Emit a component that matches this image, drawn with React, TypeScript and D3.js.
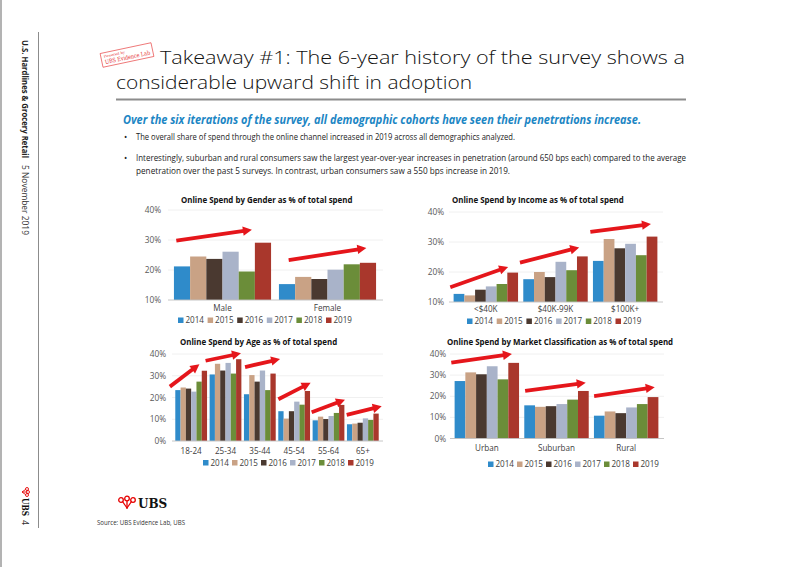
import React from "react";
import * as d3 from "d3";

const years = ["2014", "2015", "2016", "2017", "2018", "2019"];
const yearColors = ["#2f8bca", "#c9a285", "#4a3930", "#a9b3c9", "#6b8d39", "#a9372c"];

const genderCats = ["Male", "Female"];
const genderValues = [
  [21.2, 24.5, 23.7, 26.1, 19.5, 29.1],
  [15.3, 17.7, 17.0, 20.1, 21.9, 22.4],
];
const genderTicks = [10, 20, 30, 40];
const genderArrows = [
  [0.06, 29.8, 0.78, 33.4],
  [1.13, 23.3, 1.87, 27.3],
];

const incomeCats = ["<$40K", "$40K-99K", "$100K+"];
const incomeValues = [
  [12.7, 12.2, 14.1, 15.2, 16.0, 19.8],
  [17.6, 20.0, 18.3, 23.4, 20.6, 25.2],
  [23.7, 31.0, 27.9, 29.4, 25.6, 31.8],
];
const incomeTicks = [10, 20, 30, 40];
const incomeArrows = [
  [-0.01, 14.9, 0.82, 21.7],
  [0.99, 23.1, 1.84, 28.2],
  [2.0, 33.4, 2.87, 36.0],
];

const ageCats = ["18-24", "25-34", "35-44", "45-54", "55-64", "65+"];
const ageValues = [
  [23.4, 24.6, 24.1, 22.7, 27.3, 32.3],
  [30.6, 35.5, 32.4, 35.9, 31.0, 37.6],
  [21.5, 30.3, 27.3, 32.4, 23.4, 31.0],
  [13.7, 10.3, 13.7, 18.1, 16.7, 23.0],
  [9.5, 11.2, 10.1, 11.5, 12.9, 16.6],
  [7.7, 8.0, 8.4, 10.4, 9.7, 12.6],
];
const ageTicks = [0, 10, 20, 30, 40];
const ageArrows = [
  [-0.12, 25.0, 0.74, 35.3],
  [0.92, 36.9, 1.95, 40.3],
  [2.07, 34.0, 3.09, 37.7],
  [3.04, 19.2, 3.98, 26.8],
  [4.01, 13.2, 4.98, 19.0],
  [5.03, 12.0, 6.05, 16.0],
];

const marketCats = ["Urban", "Suburban", "Rural"];
const marketValues = [
  [27.2, 31.3, 30.4, 34.2, 28.0, 35.8],
  [15.7, 15.0, 15.3, 16.3, 18.4, 22.5],
  [10.8, 12.8, 12.0, 14.7, 16.3, 19.6],
];
const marketTicks = [0, 10, 20, 30, 40];
const marketArrows = [
  [-0.01, 35.9, 0.86, 40.0],
  [1.05, 22.5, 1.92, 26.4],
  [2.04, 20.1, 2.91, 24.3],
];

const FONT = "'Open Sans', 'DejaVu Sans', sans-serif";

type ChartProps = {
  title: string;
  titleX: number;
  titleY: number;
  cats: string[];
  values: number[][];
  ticks: number[];
  arrows: number[][];
  xr: [number, number];
  yr: [number, number];
  tickRight: number;
  catY: number;
  legendX: number;
  legendY: number;
  legendStep: number;
};

function Arrow({ x1, y1, x2, y2 }: { x1: number; y1: number; x2: number; y2: number }) {
  const ang = Math.atan2(y2 - y1, x2 - x1);
  const hl = 9;
  const hw = 4.7;
  const bx = x2 - hl * Math.cos(ang);
  const by = y2 - hl * Math.sin(ang);
  const px = -Math.sin(ang);
  const py = Math.cos(ang);
  const pts = [
    [x2, y2],
    [bx + px * hw, by + py * hw],
    [bx - px * hw, by - py * hw],
  ];
  return (
    <g>
      <line x1={x1} y1={y1} x2={bx + Math.cos(ang)} y2={by + Math.sin(ang)} stroke="#e5161b" strokeWidth={3.8} />
      <polygon points={pts.map((p) => p.join(",")).join(" ")} fill="#e5161b" />
    </g>
  );
}

function BarChart(p: ChartProps) {
  const x0 = d3.scaleBand<string>().domain(p.cats).range(p.xr).paddingInner(0.075).paddingOuter(0.0375);
  const x1 = d3.scaleBand<string>().domain(years).range([0, x0.bandwidth()]).padding(0);
  const yDomain = d3.extent(p.ticks) as [number, number];
  const y = d3.scaleLinear().domain(yDomain).range(p.yr);
  const xa = d3.scaleLinear().domain([0, p.cats.length]).range(p.xr);
  return (
    <g fontFamily={FONT}>
      <text x={p.titleX} y={p.titleY} fontSize={7.9} fontWeight={700} fill="#111">
        {p.title}
      </text>
      {p.ticks.map((t) => (
        <g key={t}>
          {t !== yDomain[0] && (
            <line x1={p.xr[0] - 2} x2={p.xr[1] + 3} y1={y(t)} y2={y(t)} stroke="#ececec" strokeWidth={0.8} />
          )}
          <text x={p.tickRight} y={y(t) + 3} fontSize={8.3} fill="#595959" textAnchor="end">
            {t}%
          </text>
        </g>
      ))}
      {p.cats.map((c, ci) => (
        <g key={c} transform={`translate(${x0(c)},0)`}>
          {years.map((yr, yi) => (
            <rect
              key={yr}
              x={x1(yr)}
              y={y(p.values[ci][yi])}
              width={x1.bandwidth()}
              height={y(yDomain[0]) - y(p.values[ci][yi])}
              fill={yearColors[yi]}
            />
          ))}
          <text x={x0.bandwidth() / 2} y={p.catY} fontSize={8.1} fill="#404040" textAnchor="middle">
            {c}
          </text>
        </g>
      ))}
      <line x1={p.xr[0] - 2} x2={p.xr[1] + 3} y1={y(yDomain[0])} y2={y(yDomain[0])} stroke="#bfbfbf" strokeWidth={0.9} />
      {p.arrows.map((a, i) => (
        <Arrow key={i} x1={xa(a[0])} y1={y(a[1])} x2={xa(a[2])} y2={y(a[3])} />
      ))}
      {years.map((yr, i) => (
        <g key={yr} transform={`translate(${p.legendX + i * p.legendStep},${p.legendY})`}>
          <rect x={0} y={-5.5} width={5.5} height={5.5} fill={yearColors[i]} />
          <text x={7.5} y={0} fontSize={8.1} fill="#404040" textLength={18.5} lengthAdjust="spacingAndGlyphs">
            {yr}
          </text>
        </g>
      ))}
    </g>
  );
}

export default function App() {
  return (
    <svg
      width={802}
      height={567}
      viewBox="0 0 802 567"
      style={{ position: "absolute", left: 0, top: 0, background: "#fff" }}
      fontFamily={FONT}
    >
      <rect x={0} y={0} width={802} height={567} fill="#fff" />
      <line x1={1} y1={0} x2={1} y2={567} stroke="#9a9a9a" strokeWidth={1.5} />
      <line x1={38.5} y1={32} x2={38.5} y2={528} stroke="#8c8c8c" strokeWidth={1} />

      {/* sidebar */}
      <g transform="translate(22,40) rotate(90)">
        <text x={0} y={0} fontSize={9.5} fontWeight={700} fill="#222" textLength={118} lengthAdjust="spacingAndGlyphs">
          U.S. Hardlines &amp; Grocery Retail
        </text>
        <text x={125} y={0} fontSize={9.5} fill="#333" textLength={70} lengthAdjust="spacingAndGlyphs">
          5 November 2019
        </text>
      </g>
      <g transform="translate(22,487) rotate(90)">
        <g fill="none" stroke="#e60000" strokeWidth={0.9}>
          <circle cx={2} cy={-5} r={1.5} />
          <circle cx={5} cy={-6} r={1.5} />
          <circle cx={8} cy={-5} r={1.5} />
          <line x1={5} y1={-4.5} x2={5} y2={0} />
          <line x1={2.5} y1={-3.5} x2={5} y2={0} />
          <line x1={7.5} y1={-3.5} x2={5} y2={0} />
        </g>
        <text x={11} y={0} fontSize={8.5} fontFamily="'DejaVu Serif', serif" fontWeight={700} fill="#111" textLength={18} lengthAdjust="spacingAndGlyphs">
          UBS
        </text>
        <text x={33} y={0} fontSize={9} fill="#333">
          4
        </text>
      </g>

      {/* stamp */}
      <g transform="translate(127,55) rotate(-12)">
        <rect x={-26} y={-7} width={52} height={14} fill="#fff" stroke="#e53030" strokeWidth={0.6} />
        <text x={-23} y={-2} fontSize={3.6} fill="#e53030" fontFamily="'DejaVu Serif', serif">
          Powered by
        </text>
        <text x={-23} y={4.5} fontSize={6} fill="#e53030" fontFamily="'DejaVu Serif', serif" textLength={46} lengthAdjust="spacingAndGlyphs">
          UBS Evidence Lab
        </text>
      </g>

      {/* title */}
      <text x={160} y={63.5} fontSize={18.8} fill="#111" fontWeight={300} textLength={525} lengthAdjust="spacingAndGlyphs">
        Takeaway #1: The 6-year history of the survey shows a
      </text>
      <text x={116} y={89} fontSize={18.8} fill="#111" fontWeight={300} textLength={356} lengthAdjust="spacingAndGlyphs">
        considerable upward shift in adoption
      </text>
      <line x1={116} x2={686} y1={99.5} y2={99.5} stroke="#8c8c8c" strokeWidth={2} />

      {/* subtitle and bullets */}
      <text x={123} y={124} fontSize={12.5} fontWeight={700} fontStyle="italic" fill="#1c86c4" textLength={518} lengthAdjust="spacingAndGlyphs">
        Over the six iterations of the survey, all demographic cohorts have seen their penetrations increase.
      </text>
      <g fontSize={8.6} fill="#222">
        <text x={124} y={140}>•</text>
        <text x={136} y={140} textLength={379} lengthAdjust="spacingAndGlyphs">
          The overall share of spend through the online channel increased in 2019 across all demographics analyzed.
        </text>
        <text x={124} y={161}>•</text>
        <text x={136} y={161} textLength={550} lengthAdjust="spacingAndGlyphs">
          Interestingly, suburban and rural consumers saw the largest year-over-year increases in penetration (around 650 bps each) compared to the average
        </text>
        <text x={136} y={174} textLength={374} lengthAdjust="spacingAndGlyphs">
          penetration over the past 5 surveys. In contrast, urban consumers saw a 550 bps increase in 2019.
        </text>
      </g>

      <BarChart
        title="Online Spend by Gender as % of total spend"
        titleX={181}
        titleY={203}
        cats={genderCats}
        values={genderValues}
        ticks={genderTicks}
        arrows={genderArrows}
        xr={[170, 380]}
        yr={[300, 210]}
        tickRight={161}
        catY={311}
        legendX={178}
        legendY={323}
        legendStep={29.6}
      />
      <BarChart
        title="Online Spend by Income as % of total spend"
        titleX={452}
        titleY={203}
        cats={incomeCats}
        values={incomeValues}
        ticks={incomeTicks}
        arrows={incomeArrows}
        xr={[451, 660]}
        yr={[302, 212]}
        tickRight={444}
        catY={312}
        legendX={467}
        legendY={324}
        legendStep={29.7}
      />
      <BarChart
        title="Online Spend by Age as % of total spend"
        titleX={180}
        titleY={345}
        cats={ageCats}
        values={ageValues}
        ticks={ageTicks}
        arrows={ageArrows}
        xr={[174, 380]}
        yr={[441, 354]}
        tickRight={166}
        catY={453.5}
        legendX={203}
        legendY={465.5}
        legendStep={29}
      />
      <BarChart
        title="Online Spend by Market Classification as % of total spend"
        titleX={447}
        titleY={345}
        cats={marketCats}
        values={marketValues}
        ticks={marketTicks}
        arrows={marketArrows}
        xr={[452, 661]}
        yr={[438.5, 354]}
        tickRight={446}
        catY={451}
        legendX={488}
        legendY={467}
        legendStep={29}
      />

      {/* UBS logo and source */}
      <g transform="translate(118,497)">
        <g fill="#e60000" stroke="#e60000" strokeWidth={1.3}>
          <circle cx={3} cy={3} r={2.3} fill="none" />
          <line x1={4.5} y1={4.5} x2={9} y2={11} />
          <circle cx={9} cy={1.5} r={2.3} fill="none" />
          <line x1={9} y1={3.8} x2={9} y2={12} />
          <circle cx={15} cy={3} r={2.3} fill="none" />
          <line x1={13.5} y1={4.5} x2={9} y2={11} />
        </g>
        <text x={20} y={11} fontSize={12} fontWeight={700} fontFamily="'DejaVu Serif', serif" fill="#111">
          UBS
        </text>
      </g>
      <text x={97} y={525} fontSize={6.8} fill="#333" textLength={88} lengthAdjust="spacingAndGlyphs">
        Source: UBS Evidence Lab, UBS
      </text>
    </svg>
  );
}
